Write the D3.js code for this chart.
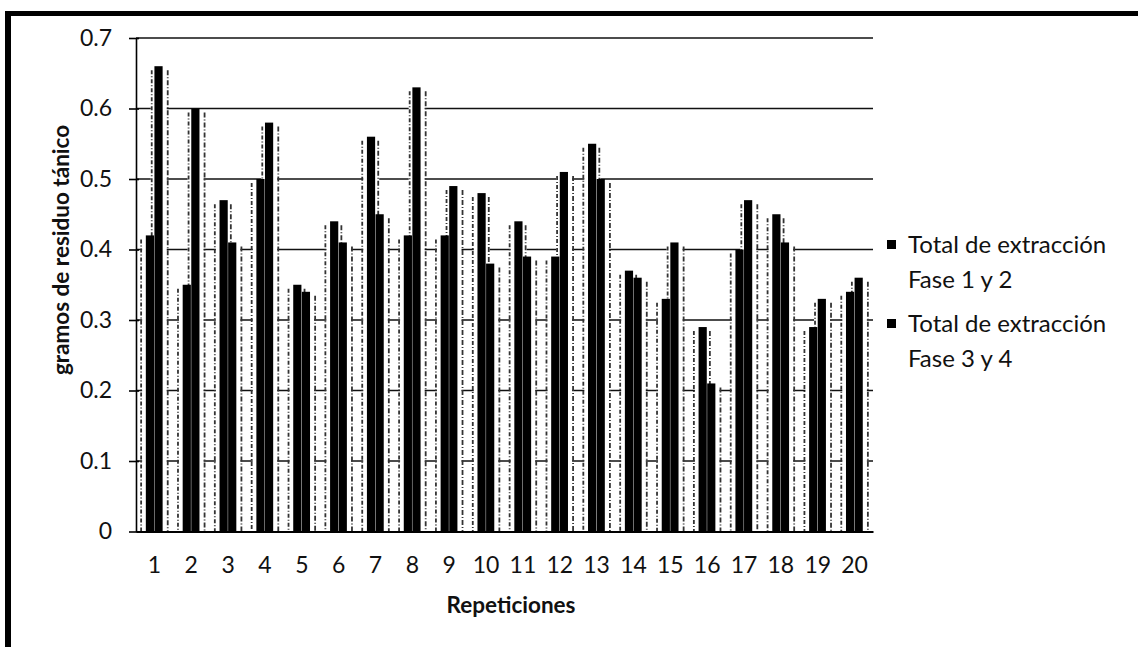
<!DOCTYPE html>
<html><head><meta charset="utf-8">
<script src="https://cdn.jsdelivr.net/npm/d3@7"></script>
<style>
html,body{margin:0;padding:0;background:#fff;}
svg{display:block;}
text{font-family:Lato,"Open Sans",sans-serif;fill:#111;}
</style></head>
<body>
<svg id="chart" width="1138" height="647"></svg>
<script>
const categories = ["1","2","3","4","5","6","7","8","9","10","11","12","13","14","15","16","17","18","19","20"];
const fase12 = [0.42,0.35,0.47,0.50,0.35,0.44,0.56,0.42,0.42,0.48,0.44,0.39,0.55,0.37,0.33,0.29,0.40,0.45,0.29,0.34];
const fase34 = [0.66,0.60,0.41,0.58,0.34,0.41,0.45,0.63,0.49,0.38,0.39,0.51,0.50,0.36,0.41,0.21,0.47,0.41,0.33,0.36];
const seriesNames = [["Total de extracción","Fase 1 y 2"],["Total de extracción","Fase 3 y 4"]];
const yTicks = [0,0.1,0.2,0.3,0.4,0.5,0.6,0.7];

const svg = d3.select("#chart");
const m = {left:136, right:873, top:38, bottom:531.5};

// frame (top and left edges)
svg.append("rect").attr("x",5).attr("y",11).attr("width",1133).attr("height",5).attr("fill","#000");
svg.append("rect").attr("x",5).attr("y",11).attr("width",6).attr("height",636).attr("fill","#000");

const x = d3.scaleBand().domain(categories).range([m.left,m.right]).paddingInner(0).paddingOuter(0);
const y = d3.scaleLinear().domain([0,0.7]).range([m.bottom,m.top]);

// gridlines
svg.append("g").selectAll("line").data(yTicks.filter(d=>d>0)).join("line")
  .attr("x1",m.left).attr("x2",m.right)
  .attr("y1",d=>y(d)).attr("y2",d=>y(d))
  .attr("stroke","#111").attr("stroke-width",1.6);

const data = [];
categories.forEach((c,i)=>{
  data.push({c, s:0, v:fase12[i]});
  data.push({c, s:1, v:fase34[i]});
});
const coreW = 8.6;
const cx = d => x(d.c) + x.bandwidth()/2 + (d.s===0 ? -coreW/2 : coreW/2);

// halos (scanned gradient edges)
const halo = svg.append("g");
halo.selectAll("rect").data(data).join("rect")
  .attr("x",d=>cx(d)-8).attr("width",16)
  .attr("y",d=>y(d.v)+2).attr("height",d=>m.bottom-y(d.v)-2)
  .attr("fill","#fff");
halo.selectAll("line.l").data(data).join("line").attr("class","l")
  .attr("x1",d=>cx(d)-(d.s===0?9:7)).attr("x2",d=>cx(d)-(d.s===0?9:7))
  .attr("y1",d=>y(d.v)+4).attr("y2",m.bottom)
  .attr("stroke","#333").attr("stroke-width",1.8).attr("stroke-dasharray","4,2,1,2");
halo.selectAll("line.r").data(data).join("line").attr("class","r")
  .attr("x1",d=>cx(d)+(d.s===1?9:7)).attr("x2",d=>cx(d)+(d.s===1?9:7))
  .attr("y1",d=>y(d.v)+4).attr("y2",m.bottom)
  .attr("stroke","#333").attr("stroke-width",1.8).attr("stroke-dasharray","5,2,1,2");

// core bars
svg.append("g").selectAll("rect").data(data).join("rect")
  .attr("x",d=>cx(d)-coreW/2).attr("width",coreW-0.4)
  .attr("y",d=>y(d.v)).attr("height",d=>m.bottom-y(d.v))
  .attr("fill","#000");

// y axis
const yAxis = d3.axisLeft(y).tickValues(yTicks).tickSize(7).tickSizeOuter(0)
  .tickFormat(d=>d===0?"0":d3.format(".1f")(d));
const ga = svg.append("g").attr("transform",`translate(${m.left},0)`).call(yAxis);
ga.select(".domain").attr("stroke","#000").attr("stroke-width",1.6);
ga.selectAll(".tick line").attr("stroke","#000").attr("stroke-width",1.6).attr("x2",-7).attr("x1",3);
ga.selectAll(".tick text").attr("x",-24).attr("font-size",23).attr("font-family","Lato,sans-serif").attr("fill","#111");

// x axis
const xAxis = d3.axisBottom(x).tickSize(0).tickSizeOuter(0);
const gx = svg.append("g").attr("transform",`translate(0,${m.bottom})`).call(xAxis);
gx.select(".domain").attr("stroke","#000").attr("stroke-width",1.8);
gx.selectAll(".tick text").attr("y",25).attr("font-size",23).attr("font-family","Lato,sans-serif").attr("fill","#111");

// axis titles
svg.append("text").attr("x",511).attr("y",613).attr("text-anchor","middle")
  .attr("font-size",22.5).attr("font-weight","bold").text("Repeticiones");
svg.append("text").attr("transform","translate(69,250) rotate(-90)").attr("text-anchor","middle")
  .attr("font-size",22.5).attr("font-weight","bold").text("gramos de residuo tánico");

// legend
const lg = svg.append("g");
const ly = [253, 332];
seriesNames.forEach((nm,i)=>{
  lg.append("rect").attr("x",887).attr("y",ly[i]-13).attr("width",9).attr("height",9).attr("fill","#000");
  lg.append("text").attr("x",908).attr("y",ly[i]).attr("font-size",24).text(nm[0]);
  lg.append("text").attr("x",908).attr("y",ly[i]+35).attr("font-size",24).text(nm[1]);
});
</script>
</body></html>
